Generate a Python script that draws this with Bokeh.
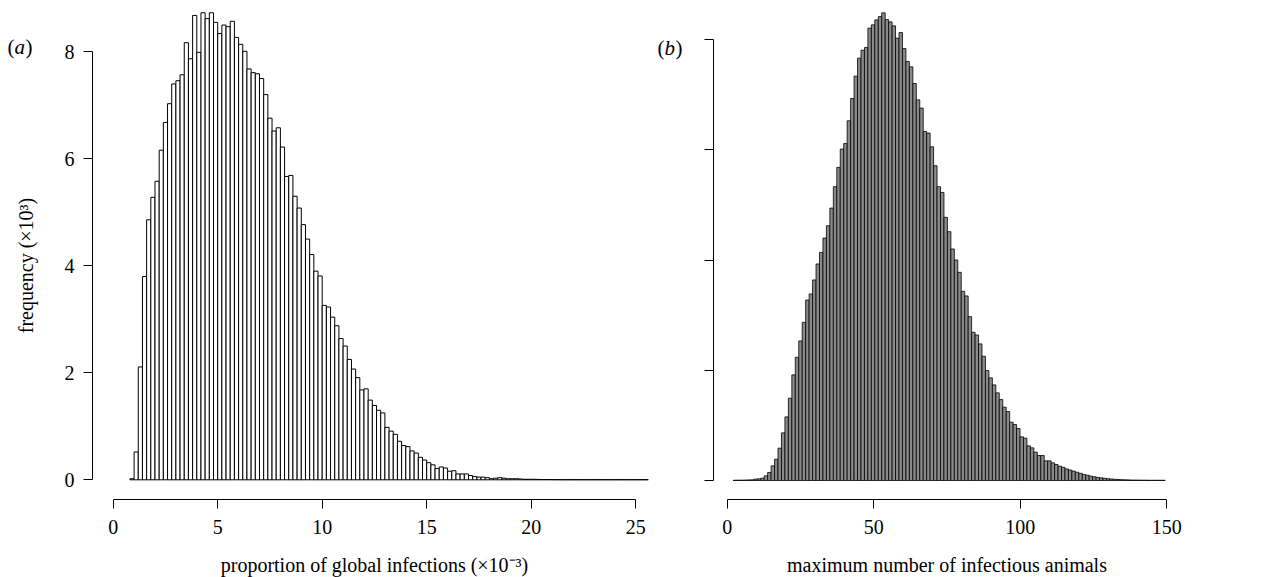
from bokeh.plotting import figure
from bokeh.models import Range1d, FixedTicker, ColumnDataSource
from bokeh.core.properties import value
from bokeh.layouts import row
from bokeh.embed import file_html
from bokeh.resources import INLINE

SERIF = "Liberation Serif"

# (a) proportion of global infections (x10^-3), bins of width 0.2 starting at 0.8
left_start = 0.8
left_width = 0.2
left_freq = [
    0.02, 0.52, 2.11, 3.80, 4.86, 5.28, 5.58, 6.16, 6.68, 7.03,
    7.40, 7.46, 7.57, 8.17, 7.87, 8.68, 7.99, 8.73, 8.62, 8.73,
    8.55, 8.34, 8.50, 8.47, 8.57, 8.27, 8.14, 8.01, 7.68, 7.61,
    7.59, 7.50, 7.20, 6.76, 6.52, 6.58, 6.22, 5.67, 5.69, 5.30,
    5.08, 4.77, 4.50, 4.21, 3.90, 3.81, 3.26, 3.23, 3.04, 2.88,
    2.64, 2.50, 2.25, 2.07, 1.91, 1.68, 1.70, 1.49, 1.39, 1.30,
    1.25, 0.98, 0.91, 0.85, 0.72, 0.64, 0.62, 0.54, 0.50, 0.42,
    0.37, 0.32, 0.28, 0.21, 0.24, 0.22, 0.16, 0.17, 0.11, 0.11,
    0.11, 0.08, 0.06, 0.05, 0.05, 0.04, 0.02, 0.03, 0.04, 0.03,
    0.02, 0.02, 0.02, 0.015, 0.01, 0.01, 0.01, 0.008, 0.006, 0.006,
    0.005, 0.004, 0.004, 0.003, 0.003, 0.003, 0.003, 0.003, 0.003, 0.003,
    0.003, 0.003, 0.003, 0.003, 0.003, 0.003, 0.003, 0.003, 0.003, 0.003,
    0.003, 0.003, 0.003, 0.003,
]

# (b) maximum number of infectious animals, equal-width bins starting at 2
right_start = 2.0
right_width = 1.18
right_freq = [
    0.002, 0.003, 0.003, 0.004, 0.005, 0.006,
    0.012, 0.015, 0.021, 0.042, 0.073, 0.133, 0.193, 0.293, 0.432, 0.577,
    0.746, 0.958, 1.118, 1.266, 1.435, 1.637, 1.692, 1.819, 1.964, 2.069,
    2.199, 2.311, 2.471, 2.665, 2.840, 3.006, 3.057, 3.263, 3.465, 3.668,
    3.831, 3.903, 3.927, 4.103, 4.133, 4.178, 4.208, 4.242,
    4.181, 4.160, 4.124, 4.012, 4.063, 3.918, 3.801, 3.752, 3.601, 3.453,
    3.378, 3.166, 3.151, 3.027, 2.855, 2.665, 2.613, 2.387, 2.257, 2.100,
    2.000, 1.888, 1.716, 1.674, 1.486, 1.344, 1.320, 1.239, 1.127, 0.997,
    0.931, 0.867, 0.795, 0.734, 0.665, 0.625, 0.529, 0.508, 0.471, 0.396,
    0.384, 0.314, 0.296, 0.257, 0.227, 0.227, 0.178, 0.178, 0.160, 0.145,
    0.13, 0.12, 0.105, 0.095, 0.085, 0.075, 0.065, 0.055, 0.048, 0.04,
    0.034, 0.028, 0.024, 0.02, 0.016, 0.013, 0.011, 0.009, 0.007, 0.006,
    0.005, 0.004, 0.004, 0.003, 0.003, 0.003, 0.002, 0.002, 0.002, 0.002,
    0.002,
]

left_xticks = [0, 5, 10, 15, 20, 25]
left_yticks = [0, 2, 4, 6, 8]
right_xticks = [0, 50, 100, 150]
right_yticks = [0, 1, 2, 3, 4]

left_xlabel = "proportion of global infections (\u00d710\u207b\u00b3)"
left_ylabel = "frequency (\u00d710\u00b3)"
right_xlabel = "maximum number of infectious animals"


def hist_source(start, width, freq):
    lefts = [start + i * width for i in range(len(freq))]
    rights = [x + width for x in lefts]
    return ColumnDataSource(dict(left=lefts, right=rights, top=freq, bottom=[0] * len(freq)))


def make_panel(width, x_range, y_range, y_axis_at, x_axis_at):
    # the frame fills the whole canvas; the axes sit at fixed data positions,
    # slightly detached from the bars as in a base-graphics histogram
    p = figure(width=width, height=577, output_backend="svg", toolbar_location=None,
               x_range=Range1d(*x_range), y_range=Range1d(*y_range),
               min_border=0, min_border_left=0, min_border_right=0,
               min_border_top=0, min_border_bottom=0)
    p.outline_line_color = None
    p.background_fill_color = "white"
    p.border_fill_color = "white"
    p.xgrid.visible = False
    p.ygrid.visible = False
    p.yaxis[0].fixed_location = y_axis_at
    p.xaxis[0].fixed_location = x_axis_at
    return p


def style_axes(p, xticks, yticks, xlabel, ylabel):
    for ax in (p.xaxis[0], p.yaxis[0]):
        ax.axis_line_color = "black"
        ax.axis_line_width = 1
        ax.major_tick_line_color = "black"
        ax.major_tick_line_width = 1
        ax.major_tick_out = 9
        ax.major_tick_in = 0
        ax.minor_tick_line_color = None
        ax.major_label_text_font = SERIF
        ax.major_label_text_font_size = "20px"
        ax.major_label_text_color = "black"
        ax.axis_label_text_font = SERIF
        ax.axis_label_text_font_size = "20px"
        ax.axis_label_text_font_style = "normal"
        ax.axis_label_text_color = "black"
    p.xaxis[0].ticker = FixedTicker(ticks=xticks)
    p.yaxis[0].ticker = FixedTicker(ticks=yticks)
    p.xaxis[0].bounds = (xticks[0], xticks[-1])
    p.yaxis[0].bounds = (yticks[0], yticks[-1])
    p.xaxis[0].major_label_standoff = 12
    p.yaxis[0].major_label_standoff = 9
    p.xaxis[0].axis_label = xlabel
    p.xaxis[0].axis_label_standoff = 16
    if ylabel:
        p.yaxis[0].axis_label = ylabel
        p.yaxis[0].axis_label_standoff = 25


def panel_tag(p, x, y, letter):
    pieces = [("(", 0, "normal"), (letter, 7, "italic"), (")", 18, "normal")]
    for txt, dx, style in pieces:
        p.text(x=[x], y=[y], text=[txt], x_offset=dx,
               text_font=value(SERIF), text_font_size="21px",
               text_font_style=style, text_color="black",
               text_align="left", text_baseline="middle")


# panel (a)
p1 = make_panel(650, (-5.392, 25.708), (-1.826, 8.959), -0.99, -0.368)
p1.quad(left="left", right="right", top="top", bottom="bottom",
        source=hist_source(left_start, left_width, left_freq),
        fill_color="white", line_color="black", line_width=1)
style_axes(p1, left_xticks, left_yticks, left_xlabel, left_ylabel)
panel_tag(p1, -5.057, 8.099, "a")

# panel (b)
p2 = make_panel(629, (-26.18, 188.5), (-0.880, 4.354), -4.57, -0.168)
p2.quad(left="left", right="right", top="top", bottom="bottom",
        source=hist_source(right_start, right_width, right_freq),
        fill_color="#8a8a8a", line_color="black", line_width=0.8)
style_axes(p2, right_xticks, right_yticks, right_xlabel, None)
p2.yaxis[0].major_label_overrides = {t: "" for t in right_yticks}
panel_tag(p2, -23.79, 3.927, "b")

layout = row(p1, p2)
open("out.html", "w").write(file_html(layout, INLINE))
